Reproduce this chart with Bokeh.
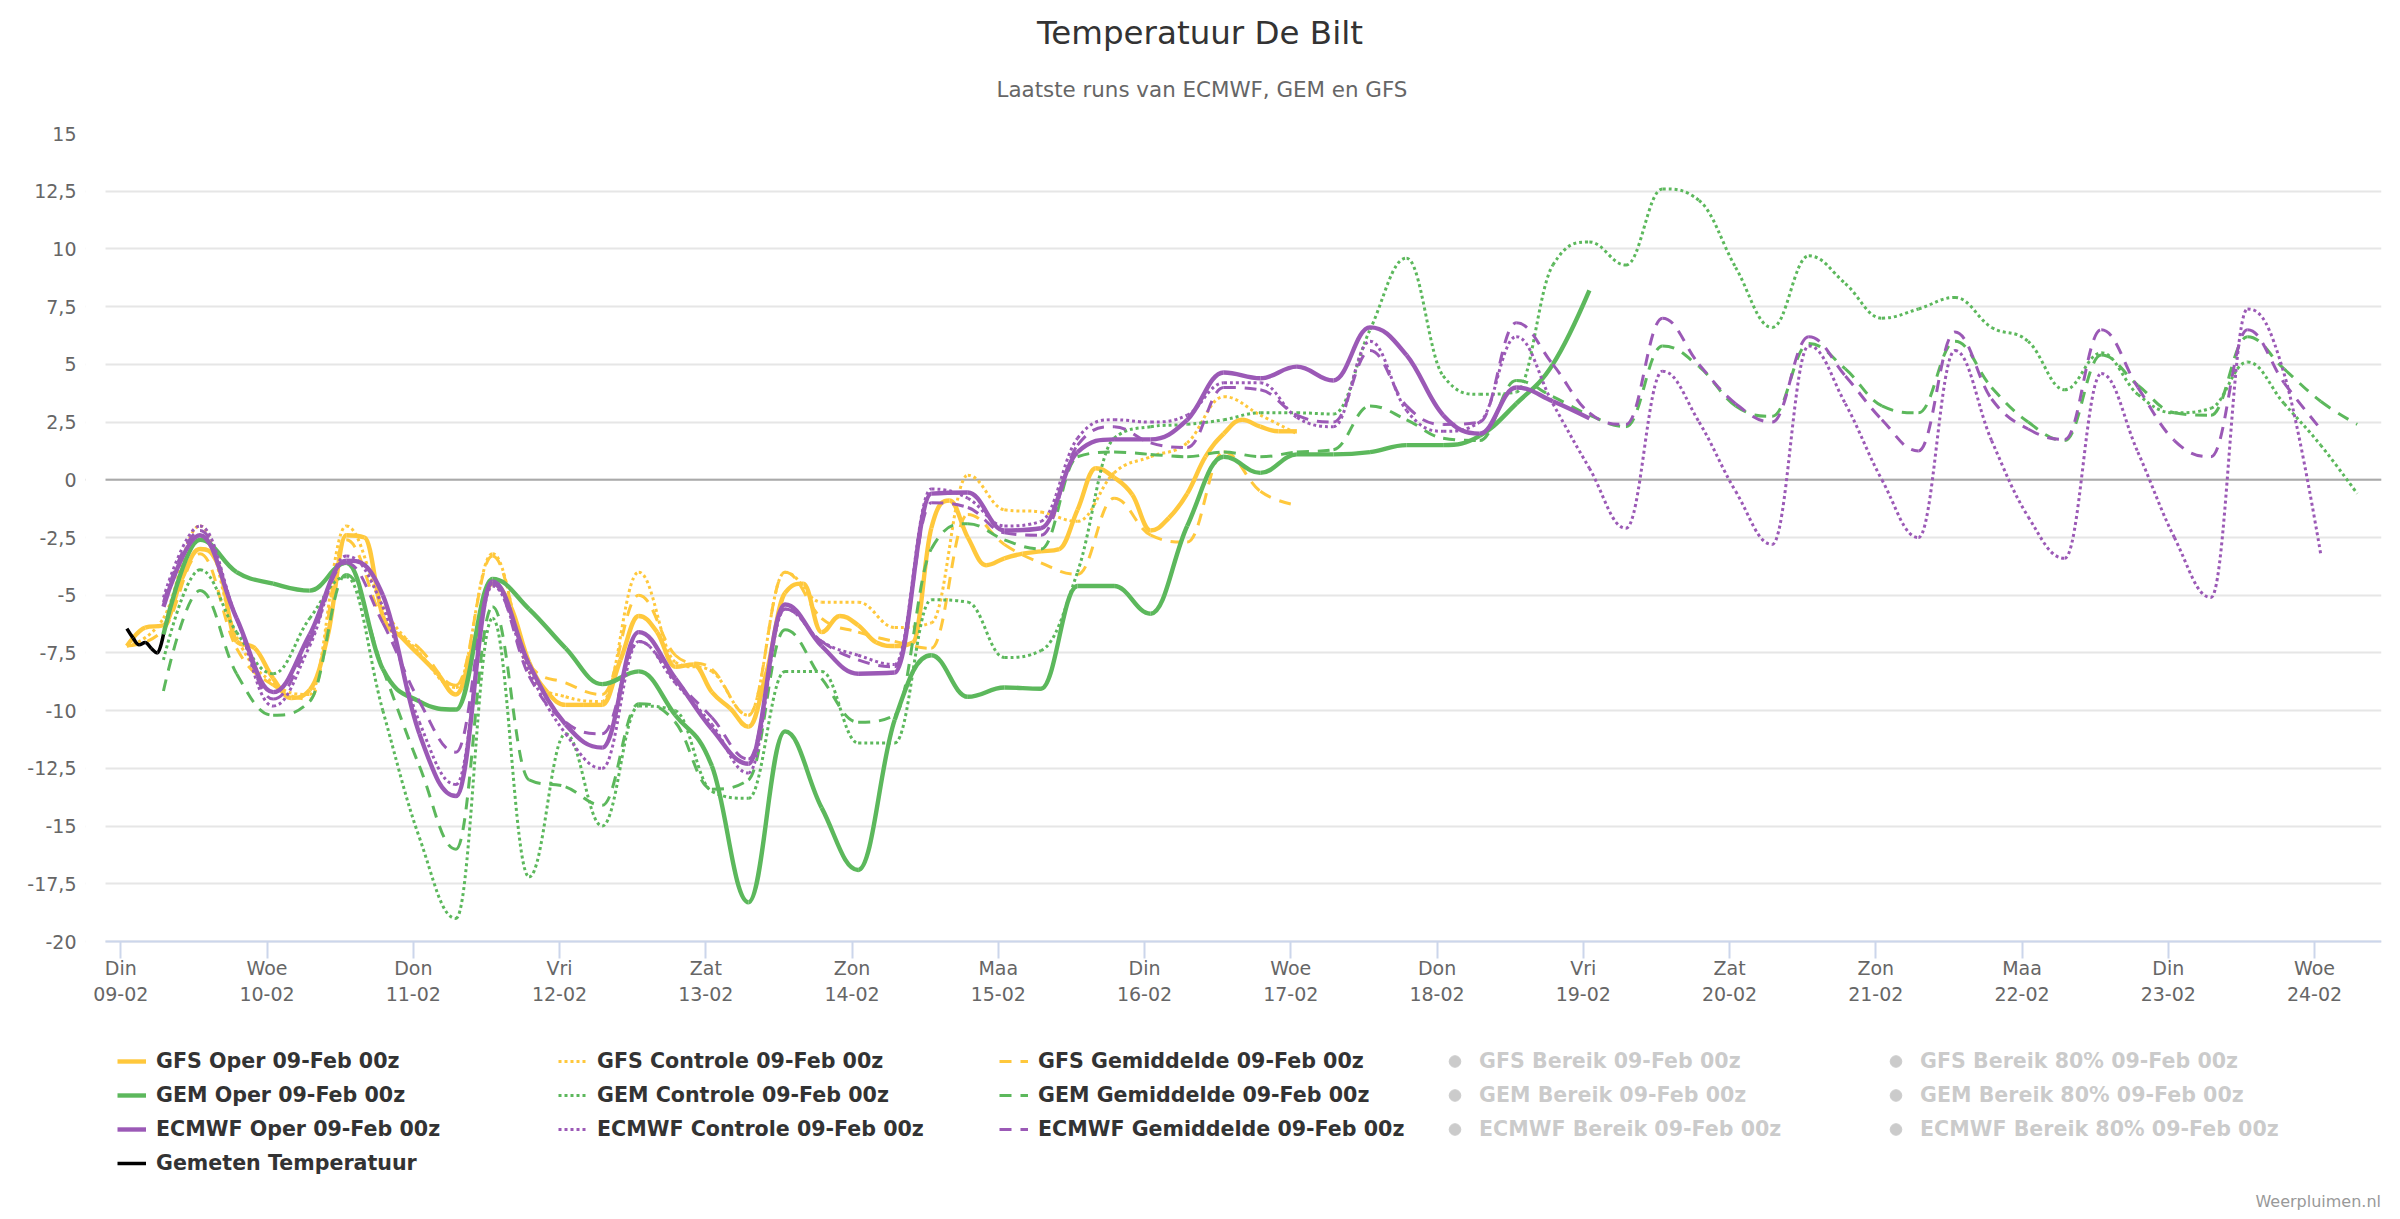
from bokeh.plotting import figure
from bokeh.models import (Range1d, FixedTicker, CustomJSTickFormatter, Legend,
                          LegendItem, Span, Title, Label, BoxAnnotation)
from bokeh.embed import file_html
from bokeh.resources import INLINE

FONT = "DejaVu Sans"

TITLE = "Temperatuur De Bilt"
SUBTITLE = "Laatste runs van ECMWF, GEM en GFS"
CREDITS = "Weerpluimen.nl"

DAY_NAMES = ["Din", "Woe", "Don", "Vri", "Zat", "Zon", "Maa", "Din",
             "Woe", "Don", "Vri", "Zat", "Zon", "Maa", "Din", "Woe"]
DAY_DATES = ["09-02", "10-02", "11-02", "12-02", "13-02", "14-02", "15-02", "16-02",
             "17-02", "18-02", "19-02", "20-02", "21-02", "22-02", "23-02", "24-02"]
Y_TICKS = [-20, -17.5, -15, -12.5, -10, -7.5, -5, -2.5, 0, 2.5, 5, 7.5, 10, 12.5, 15]

# hours after 09-02 00:00 (local) of first value, and step in hours
GFS_OPER_START, GFS_OPER_STEP = 1, 3
GFS_ENS_START, GFS_ENS_STEP = 1, 6
GEM_START, GEM_STEP = 7, 6
EC_START, EC_STEP = 7, 6
MEAS_START, MEAS_STEP = 1, 1

gfs_oper = [-7.2, -6.4, -6.3, -4.3, -3.0, -3.7, -7.0, -7.3,
            -8.6, -9.45, -9.1, -6.7, -2.4, -2.5, -5.9, -6.8,
            -7.6, -8.4, -9.3, -7.0, -4.5, -5.5, -7.9, -9.2,
            -9.75, -9.75, -9.75, -7.8, -5.9, -6.6, -8.1, -8.0,
            -9.2, -9.9, -10.7, -8.3, -4.9, -4.5, -6.6, -5.9,
            -6.3, -7.05, -7.2, -7.05, -2.1, -0.9, -2.5, -3.7,
            -3.4, -3.2, -3.1, -3.0, -1.3, 0.5, 0.1, -0.65,
            -2.2, -1.65, -0.6, 1.0, 2.0, 2.6, 2.3, 2.1,
            2.1]
gfs_ctrl = [-7.2, -6.0, -2.0, -6.8,
            -8.8, -9.3, -2.0, -5.5,
            -7.5, -9.0, -3.2, -8.3,
            -9.4, -9.6, -4.0, -7.9,
            -8.3, -10.2, -4.0, -5.3,
            -5.3, -6.4, -6.2, 0.2,
            -1.3, -1.4, -1.8, 0.3,
            1.0, 1.6, 3.6, 2.8,
            2.0]
gfs_mean = [-7.2, -6.5, -3.2, -7.3,
            -8.9, -9.5, -2.6, -6.0,
            -7.3, -8.9, -3.3, -8.0,
            -8.8, -9.3, -5.0, -7.6,
            -8.2, -10.2, -4.0, -6.0,
            -6.6, -7.0, -7.3, -1.5,
            -2.8, -3.6, -4.1, -0.8,
            -2.4, -2.7, 1.2, -0.5,
            -1.1]
gem_oper = [-6.7, -2.6, -4.0,
            -4.5, -4.8, -3.6, -8.2,
            -9.6, -9.95, -4.3, -5.6,
            -7.3, -8.85, -8.3, -10.2,
            -12.4, -18.3, -10.9, -14.2,
            -16.9, -10.4, -7.6, -9.4,
            -9.0, -9.05, -4.6, -4.6,
            -5.8, -2.0, 1.0, 0.3,
            1.1, 1.1, 1.2, 1.5,
            1.5, 1.9, 3.3, 5.0,
            8.2]
gem_ctrl = [-7.8, -3.9, -6.6,
            -8.4, -6.0, -4.2, -10.0,
            -15.5, -19.0, -6.0, -17.2,
            -11.0, -15.0, -9.8, -10.0,
            -13.5, -13.8, -8.3, -8.3,
            -11.4, -11.4, -5.2, -5.3,
            -7.7, -7.4, -4.0, 1.8,
            2.3, 2.4, 2.6, 2.9,
            2.9, 2.85, 6.5, 9.6,
            4.5, 3.7, 3.8, 9.3,
            10.3, 9.3, 12.6, 12.1,
            9.2, 6.6, 9.7, 8.5,
            7.0, 7.4, 7.9, 6.6,
            6.0, 3.9, 5.5, 3.7,
            2.9, 3.1, 5.1, 3.3,
            1.5, -0.6]
gem_mean = [-9.15, -4.8, -8.4,
            -10.2, -9.6, -4.1, -8.2,
            -12.4, -16.0, -5.5, -13.0,
            -13.3, -14.1, -9.7, -10.5,
            -13.4, -13.0, -6.5, -8.6,
            -10.5, -10.2, -3.0, -1.9,
            -2.6, -3.0, 1.0, 1.2,
            1.1, 1.0, 1.2, 1.0,
            1.2, 1.3, 3.2, 2.6,
            1.8, 1.7, 4.3, 3.6,
            2.8, 2.3, 5.8, 4.9,
            3.2, 2.75, 5.9, 4.8,
            3.2, 2.9, 6.0, 4.0,
            2.5, 1.7, 5.4, 4.1,
            2.9, 2.8, 6.2, 4.8,
            3.4, 2.4]
ec_oper = [-5.5, -2.4, -6.0,
           -9.2, -6.7, -3.5, -5.0,
           -11.0, -13.7, -4.4, -8.0,
           -10.6, -11.6, -6.6, -8.6,
           -10.8, -12.3, -5.4, -7.2,
           -8.4, -8.35, -0.6, -0.55,
           -2.2, -2.1, 1.2, 1.75,
           1.75, 2.6, 4.65, 4.4,
           4.9, 4.3, 6.6, 5.4,
           2.8, 2.0, 4.0, 3.4,
           2.66]
ec_ctrl = [-5.1, -2.0, -6.0,
           -9.8, -7.2, -3.3, -5.5,
           -10.5, -13.2, -4.6, -8.3,
           -11.0, -12.5, -7.0, -8.8,
           -10.6, -12.7, -5.6, -7.0,
           -7.6, -8.0, -0.4, -0.8,
           -2.0, -1.8, 1.8, 2.6,
           2.5, 2.8, 4.2, 4.2,
           2.7, 2.3, 6.0, 3.0,
           2.1, 2.5, 6.2, 3.3,
           0.5, -2.1, 4.7, 2.5,
           -0.5, -2.8, 5.8, 3.3,
           0.0, -2.5, 5.6, 1.7,
           -1.6, -3.4, 4.6, 1.2,
           -2.5, -5.1, 7.4, 4.6,
           -3.2]
ec_mean = [-5.3, -2.2, -6.0,
           -9.5, -7.0, -3.6, -6.2,
           -9.6, -11.8, -4.5, -8.5,
           -10.5, -11.0, -7.0, -8.7,
           -10.3, -12.1, -5.6, -7.0,
           -7.8, -8.1, -1.0, -1.2,
           -2.3, -2.4, 1.5, 2.3,
           1.6, 1.4, 4.0, 3.9,
           2.8, 2.5, 5.6, 3.2,
           2.4, 2.5, 6.8, 5.0,
           2.9, 2.4, 7.0, 5.0,
           3.3, 2.5, 6.2, 4.5,
           2.6, 1.25, 6.4, 3.5,
           2.2, 1.75, 6.5, 4.0,
           1.7, 1.0, 6.5, 4.2,
           2.2]
measured = [-6.45, -6.85, -7.15, -7.05, -7.3, -7.5, -6.7]

GFS_COLOR = "#ffc83c"
GEM_COLOR = "#5cb85c"
EC_COLOR = "#9b59b6"
OPER_W = 4.4
ENS_W = 3.0
DASH = "12 9"
DOT = "3 3"

# ---- geometry (pixels)
W, H = 2384, 1211
LEFT, RIGHT, TOP = 85, 3, 133
PLOT_LEFT = 105            # where the grid starts
PLOT_BOTTOM = 941          # pixel row of the -20 line
PX_PER_DAY = 146.25
DAY0_PX = 120.3            # pixel column of 09-02 00:00
Y_MIN, Y_MAX = -20, 15
PX_PER_UNIT = (PLOT_BOTTOM - TOP) / (Y_MAX - Y_MIN)
Y_LOW = Y_MIN - (H - PLOT_BOTTOM) / PX_PER_UNIT   # frame continues below the axis
X_START = (LEFT - DAY0_PX) / PX_PER_DAY
X_PLOT_START = (PLOT_LEFT - DAY0_PX) / PX_PER_DAY
X_END = (W - RIGHT - DAY0_PX) / PX_PER_DAY


def days(start, step, values):
    return [(start + step * i) / 24.0 for i in range(len(values))]


def spline(xs, ys, smoothing=1.5):
    """Cubic segments of a Highcharts-style spline through the data points."""
    n = len(xs)
    left = [None] * n
    right = [None] * n
    denom = smoothing + 1
    for i in range(n):
        x, y = xs[i], ys[i]
        if 0 < i < n - 1:
            lx, ly, nx, ny = xs[i - 1], ys[i - 1], xs[i + 1], ys[i + 1]
            lcx = (smoothing * x + lx) / denom
            lcy = (smoothing * y + ly) / denom
            rcx = (smoothing * x + nx) / denom
            rcy = (smoothing * y + ny) / denom
            corr = 0.0
            if rcx != lcx:
                corr = (rcy - lcy) * (rcx - x) / (rcx - lcx) + y - rcy
            lcy += corr
            rcy += corr
            if lcy > ly and lcy > y:
                lcy = max(ly, y)
                rcy = 2 * y - lcy
            elif lcy < ly and lcy < y:
                lcy = min(ly, y)
                rcy = 2 * y - lcy
            if rcy > ny and rcy > y:
                rcy = max(ny, y)
                lcy = 2 * y - rcy
            elif rcy < ny and rcy < y:
                rcy = min(ny, y)
                lcy = 2 * y - rcy
            left[i] = (lcx, lcy)
            right[i] = (rcx, rcy)
        else:
            left[i] = (x, y)
            right[i] = (x, y)
    seg = dict(x0=[], y0=[], x1=[], y1=[], cx0=[], cy0=[], cx1=[], cy1=[])
    for i in range(1, n):
        seg["x0"].append(xs[i - 1]); seg["y0"].append(ys[i - 1])
        seg["x1"].append(xs[i]); seg["y1"].append(ys[i])
        seg["cx0"].append(right[i - 1][0]); seg["cy0"].append(right[i - 1][1])
        seg["cx1"].append(left[i][0]); seg["cy1"].append(left[i][1])
    return seg


p = figure(width=W, height=H, output_backend="svg", toolbar_location=None,
           x_range=Range1d(X_START, X_END), y_range=Range1d(Y_LOW, Y_MAX),
           min_border_left=LEFT, min_border_right=RIGHT, min_border_top=TOP,
           min_border_bottom=0)
p.outline_line_color = None
p.background_fill_color = "white"
p.border_fill_color = "white"

# axes
p.xgrid.visible = False
p.ygrid.grid_line_color = "#e6e6e6"
p.ygrid.grid_line_width = 2

yax = p.yaxis[0]
yax.ticker = FixedTicker(ticks=Y_TICKS)
yax.formatter = CustomJSTickFormatter(code="return tick.toString().replace('.', ',')")
yax.axis_line_color = None
yax.major_tick_line_color = None
yax.minor_tick_line_color = None
yax.major_tick_out = 0
yax.major_tick_in = 0
yax.minor_tick_out = 0
yax.major_label_standoff = 9
yax.major_label_text_font = FONT
yax.major_label_text_font_size = "19px"
yax.major_label_text_color = "#666666"

xax = p.xaxis[0]
xax.fixed_location = Y_MIN
xax.bounds = (X_PLOT_START, X_END)
xax.ticker = FixedTicker(ticks=list(range(len(DAY_NAMES))))
xax.major_label_overrides = {i: f"{DAY_NAMES[i]}\n{DAY_DATES[i]}" for i in range(len(DAY_NAMES))}
xax.axis_line_color = "#ccd6eb"
xax.axis_line_width = 2
xax.major_tick_line_color = "#ccd6eb"
xax.major_tick_line_width = 2
xax.major_tick_out = 17
xax.major_tick_in = 0
xax.minor_tick_line_color = None
xax.minor_tick_out = 0
xax.major_label_standoff = -2
xax.major_label_text_font = FONT
xax.major_label_text_font_size = "19px"
xax.major_label_text_color = "#666666"
xax.major_label_text_line_height = 1.22

zero = Span(location=0, dimension="width", line_color="#aaaaaa", line_width=2, level="underlay")
p.add_layout(zero)
# keep the strip left of the plot area blank (grid starts at the plot edge)
p.add_layout(BoxAnnotation(right=X_PLOT_START, fill_color="white", fill_alpha=1.0,
                           line_color=None, level="underlay"))


def curve(vals, start, step, color, width, dash):
    seg = spline(days(start, step, vals), vals)
    return p.bezier(x0=seg["x0"], y0=seg["y0"], x1=seg["x1"], y1=seg["y1"],
                    cx0=seg["cx0"], cy0=seg["cy0"], cx1=seg["cx1"], cy1=seg["cy1"],
                    line_color=color, line_width=width, line_dash=dash)


def hidden():
    # range series that start hidden in the original chart (legend shows a grey dot)
    return p.scatter([float("nan")], [float("nan")], marker="circle", size=12,
                     fill_color="#333333", line_color="#333333", visible=False)


items = []
models = [
    ("GFS", GFS_COLOR, (gfs_oper, GFS_OPER_START, GFS_OPER_STEP),
     (gfs_ctrl, GFS_ENS_START, GFS_ENS_STEP), (gfs_mean, GFS_ENS_START, GFS_ENS_STEP)),
    ("GEM", GEM_COLOR, (gem_oper, GEM_START, GEM_STEP),
     (gem_ctrl, GEM_START, GEM_STEP), (gem_mean, GEM_START, GEM_STEP)),
    ("ECMWF", EC_COLOR, (ec_oper, EC_START, EC_STEP),
     (ec_ctrl, EC_START, EC_STEP), (ec_mean, EC_START, EC_STEP)),
]
RUN = "09-Feb 00z"
for name, color, oper, ctrl, mean in models:
    r1 = curve(oper[0], oper[1], oper[2], color, OPER_W, "solid")
    r2 = curve(ctrl[0], ctrl[1], ctrl[2], color, ENS_W, DOT)
    r3 = curve(mean[0], mean[1], mean[2], color, ENS_W, DASH)
    r4 = hidden()
    r5 = hidden()
    items += [LegendItem(label=f"{name} Oper {RUN}", renderers=[r1]),
              LegendItem(label=f"{name} Controle {RUN}", renderers=[r2]),
              LegendItem(label=f"{name} Gemiddelde {RUN}", renderers=[r3]),
              LegendItem(label=f"{name} Bereik {RUN}", renderers=[r4]),
              LegendItem(label=f"{name} Bereik 80% {RUN}", renderers=[r5])]

rm = curve(measured, MEAS_START, MEAS_STEP, "black", 3.5, "solid")
items.append(LegendItem(label="Gemeten Temperatuur", renderers=[rm]))


def spacer(size):
    return Title(text=" ", text_font_size="1px", standoff=size, text_color="white")


# ---- above: spacer, subtitle, spacer, title (nearest the frame first)
TITLE_SHIFT = PLOT_LEFT - LEFT
p.add_layout(spacer(29), "above")
p.add_layout(Title(text=SUBTITLE, align="left", offset=891 + TITLE_SHIFT, standoff=0,
                   text_font=FONT, text_font_size="21.4px", text_font_style="normal",
                   text_color="#666666"), "above")
p.add_layout(spacer(20), "above")
p.add_layout(Title(text=TITLE, align="left", offset=931.5 + TITLE_SHIFT, standoff=0,
                   text_font=FONT, text_font_size="32.5px", text_font_style="normal",
                   text_color="#333333"), "above")

# ---- legend and credits inside the frame, below the x axis
LEGEND_BOTTOM = 1180.3
legend = Legend(items=items, location=(12 + TITLE_SHIFT, H - LEGEND_BOTTOM),
                orientation="horizontal",
                ncols=5, click_policy="hide", glyph_width=29, glyph_height=34,
                label_height=34, label_width=402, label_standoff=10, spacing=0,
                padding=0, margin=0, border_line_alpha=0, background_fill_alpha=0,
                label_text_font=FONT, label_text_font_size="20.6px",
                label_text_font_style="bold", label_text_color="#333333",
                inactive_fill_color="white", inactive_fill_alpha=0.75)
p.add_layout(legend, "center")
p.add_layout(Label(x=W - LEFT - RIGHT - 0.5, y=H - 1201, x_units="screen", y_units="screen",
                   text=CREDITS, text_align="right", text_baseline="alphabetic",
                   text_font=FONT, text_font_size="16px", text_color="#999999"))

open("out.html", "w").write(file_html(p, INLINE))
